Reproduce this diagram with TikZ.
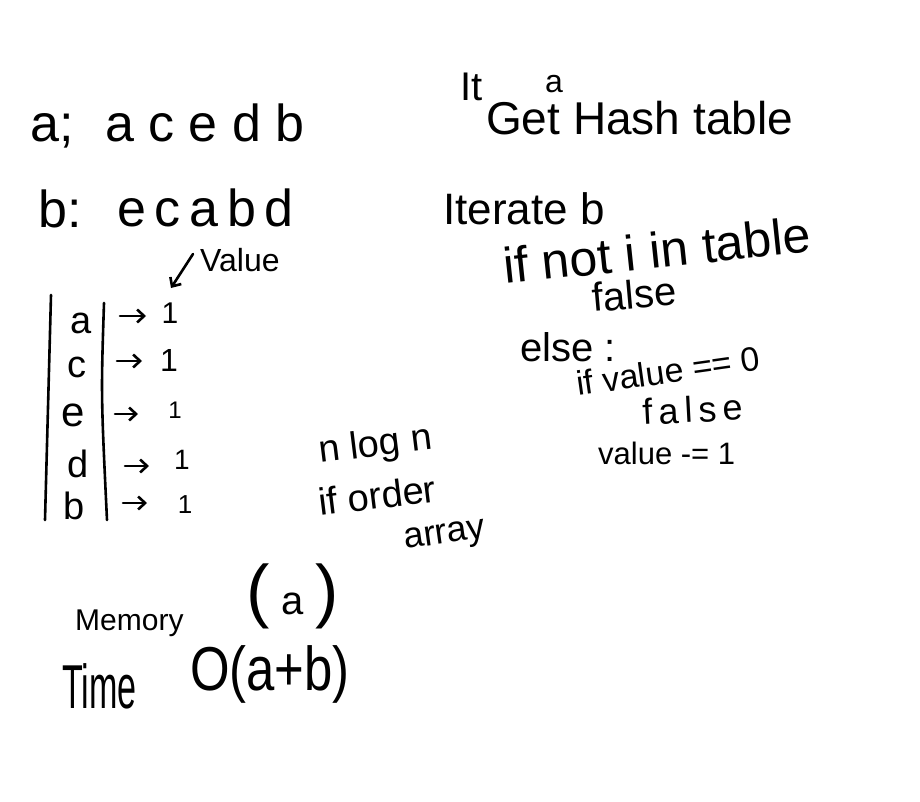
\documentclass[tikz,border=0pt]{standalone}
\usepackage{fontspec}
\setmainfont{Liberation Sans}
\usetikzlibrary{arrows.meta}
\begin{document}
\begin{tikzpicture}[x=1pt,y=-1pt,
  hw/.style={font=\fontsize{#1}{#1}\selectfont, inner sep=0pt, anchor=base west},
  cell/.style={font=\fontsize{#1}{#1}\selectfont, inner sep=0pt, anchor=center},
  ink/.style={line width=2.6pt, line cap=round, line join=round},
  barb/.style={ink, -{Straight Barb[length=7pt,width=13pt]}},
]
\useasboundingbox[fill=white] (0,0) rectangle (920,802);

% sequences
\node[hw=52] (alab) at (30,142) {a;};
\node[hw=52] (aseq) at (105,142) {a c e d b};
\node[hw=52] (blab) at (38,228) {b:};
\node[hw=52] (bseq) at (117,226) {e\,c\,a\,b\,d};

% value label
\node[hw=32] (vlab) at (200,271) {Value};
\coordinate (vtail) at (193,254);
\coordinate (vtip) at (171,288);
\draw[barb] (vtail) -- (vtip);

% table lines
\coordinate (l1t) at (51,295);
\coordinate (l1b) at (45,520);
\draw[ink] (l1t) -- (l1b);
\coordinate (l2t) at (104,303);
\coordinate (l2m) at (101,395);
\coordinate (l2b) at (107,520);
\draw[ink] (l2t) .. controls (l2m) .. (l2b);

% keys
\node[cell=38] (ka) at (81,323) {a};
\node[cell=38] (kc) at (77,367) {c};
\node[cell=42] (ke) at (73,415) {e};
\node[cell=38] (kd) at (78,464) {d};
\node[cell=38] (kb) at (74,506) {b};

% values
\node[cell=30] (va) at (170,313) {1};
\node[cell=32] (vc) at (169,360) {1};
\node[cell=24] (ve) at (175,410) {1};
\node[cell=28] (vd) at (182,460) {1};
\node[cell=26] (vb) at (185,505) {1};

% arrows
\coordinate (aa1) at (120,316); \coordinate (aa2) at (146,316);
\coordinate (ac1) at (117,361); \coordinate (ac2) at (142,361);
\coordinate (ae1) at (115,414); \coordinate (ae2) at (138,414);
\coordinate (ad1) at (125,466); \coordinate (ad2) at (149,466);
\coordinate (ab1) at (123,503); \coordinate (ab2) at (147,503);
\draw[barb] (aa1) -- (aa2);
\draw[barb] (ac1) -- (ac2);
\draw[barb] (ae1) -- (ae2);
\draw[barb] (ad1) -- (ad2);
\draw[barb] (ab1) -- (ab2);

% right column
\node[hw=40] (it) at (460,101) {It};
\node[hw=32] (ita) at (545,93) {a};
\node[hw=46] (gett) at (486,135) {Get Hash table};
\node[hw=44] (iter) at (443,225) {Iterate b};
\node[hw=50, rotate=6] (ifnot) at (505,284) {if not i in table};
\node[hw=40, rotate=5] (f1) at (593,312) {false};
\node[hw=40] (els) at (520,361) {else :};
\node[hw=34, rotate=8] (ifv) at (578,396) {if value == 0};
\node[hw=36, rotate=3] (f2) at (643,425) {f\,a\,l\,s\,e};
\node[hw=31] (vmin) at (598,464) {value -= 1};

% middle notes
\node[hw=38, rotate=7] (nlog) at (320,463) {n log n};
\node[hw=38, rotate=7] (ifo) at (320,516) {if order};
\node[hw=36, rotate=8] (arr) at (405,549) {array};

% bottom
\node[hw=30] (mem) at (75,630) {Memory};
\node[hw=70] (mema) at (246,614) {(\,{\fontsize{40}{40}\selectfont a}\,)};
\node[hw=62] (tim) at (62,708) {\scalebox{0.55}[1]{Time}};
\node[hw=62] (tima) at (190,690) {\scalebox{0.82}[1]{O(a+b)}};
\end{tikzpicture}
\end{document}
